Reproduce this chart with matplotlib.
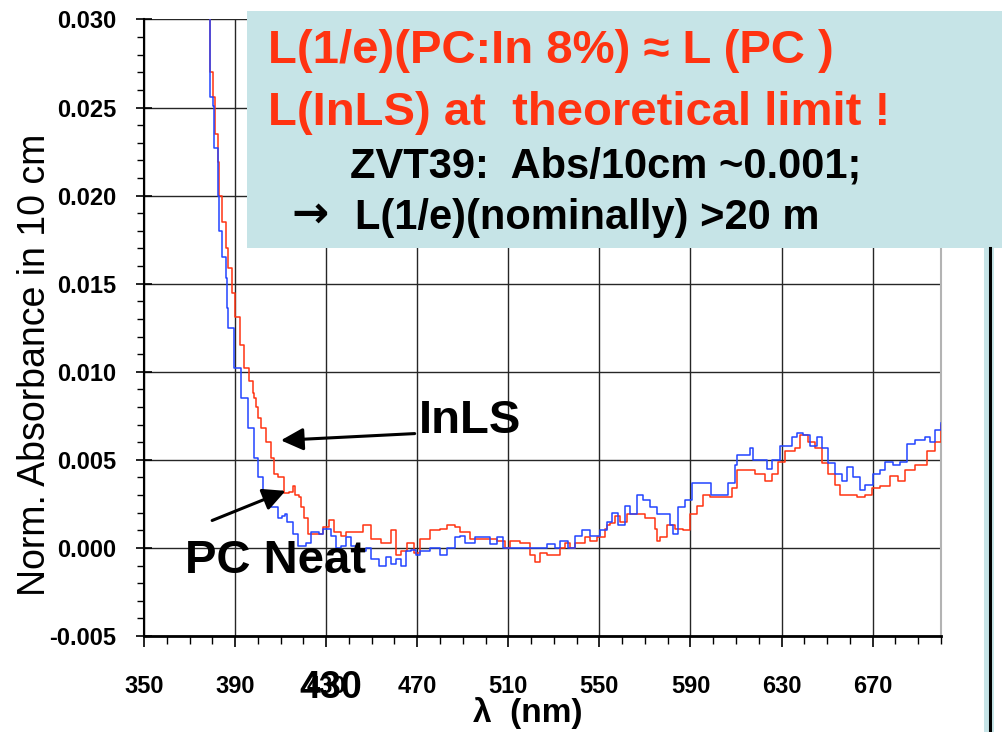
import matplotlib
matplotlib.use("Agg")
import matplotlib.pyplot as plt
from matplotlib.patches import Rectangle
from matplotlib.ticker import MultipleLocator

# InLS (red) and neat PC (blue) absorbance spectra, 10 cm path
wl_inls = [376.0, 378.3, 378.8, 380.1, 381.0, 381.4, 382.3, 383.1, 384.4, 385.8,
           387.1, 388.5, 390.1, 392.0, 394.1, 396.0, 398.0, 398.4, 399.3, 400.0,
           401.5, 403.5, 405.9, 407.2, 409.0, 411.5, 413.5, 415.5, 416.5, 418.0,
           419.0, 420.3, 422.0, 424.0, 426.4, 428.6, 431.2, 433.4, 436.5, 438.7,
           442.0, 445.2, 446.1, 449.6, 454.0, 458.3, 460.5, 463.0, 465.7, 468.4,
           471.4, 475.8, 480.2, 483.2, 486.7, 488.9, 491.1, 493.3, 497.7, 502.1,
           505.1, 508.6, 510.8, 515.1, 519.5, 521.7, 523.9, 526.9, 528.2, 532.6,
           534.8, 537.0, 539.2, 543.6, 545.7, 548.8, 552.3, 553.2, 554.5, 556.7,
           558.9, 562.0, 565.5, 569.9, 574.3, 575.2, 576.5, 579.6, 583.1, 586.6,
           589.7, 592.8, 595.4, 598.5, 604.2, 608.1, 610.3, 613.8, 618.2, 622.6,
           623.5, 625.7, 628.3, 631.4, 635.8, 638.0, 641.5, 644.6, 647.7, 650.3,
           653.4, 655.5, 659.9, 663.0, 666.5, 669.6, 673.1, 677.5, 681.0, 684.1,
           688.5, 693.8, 697.3, 700.0]
abs_inls = [0.0340, 0.0301, 0.0270, 0.0256, 0.0240, 0.0235, 0.0219, 0.0200, 0.0185, 0.0170,
            0.0159, 0.0145, 0.0131, 0.0115, 0.0102, 0.0095, 0.0088, 0.0085, 0.0080, 0.0074,
            0.0068, 0.0060, 0.0051, 0.0042, 0.0040, 0.0031, 0.0032, 0.0035, 0.0030, 0.0029,
            0.0023, 0.0017, 0.0008, 0.0008, 0.0008, 0.0012, 0.0016, 0.0009, 0.0007, 0.0009,
            0.0009, 0.0009, 0.0013, 0.0005, 0.0003, 0.0010, -0.0004, -0.0002, 0.0003, -0.0003,
            0.0005, 0.0010, 0.0011, 0.0013, 0.0012, 0.0009, 0.0009, 0.0005, 0.0005, 0.0005,
            0.0004, 0.0000, 0.0004, 0.0003, -0.0004, -0.0008, -0.0003, -0.0004, -0.0004, 0.0000,
            0.0003, 0.0000, 0.0003, 0.0006, 0.0004, 0.0006, 0.0011, 0.0013, 0.0014, 0.0018,
            0.0015, 0.0019, 0.0019, 0.0017, 0.0011, 0.0004, 0.0006, 0.0013, 0.0011, 0.0010,
            0.0019, 0.0024, 0.0030, 0.0029, 0.0029, 0.0034, 0.0044, 0.0044, 0.0042, 0.0038,
            0.0038, 0.0042, 0.0049, 0.0055, 0.0057, 0.0064, 0.0060, 0.0057, 0.0048, 0.0042,
            0.0036, 0.0030, 0.0030, 0.0029, 0.0030, 0.0034, 0.0035, 0.0041, 0.0038, 0.0044,
            0.0047, 0.0055, 0.0060, 0.0070]

wl_pc = [376.0, 377.9, 378.8, 380.1, 380.6, 382.3, 382.7, 383.1, 384.4, 386.2,
         386.6, 387.1, 389.7, 392.8, 395.8, 398.4, 400.2, 402.4, 405.9, 408.9,
         410.5, 412.0, 413.0, 415.5, 417.7, 419.0, 421.2, 423.3, 426.8, 428.6,
         432.1, 434.3, 436.5, 438.7, 441.0, 443.0, 447.5, 449.6, 453.1, 456.2,
         458.3, 460.5, 462.7, 464.9, 467.1, 469.3, 471.4, 475.8, 480.2, 483.2,
         486.7, 488.9, 491.1, 495.5, 499.9, 502.1, 505.1, 507.7, 526.9, 530.4,
         532.6, 536.1, 539.2, 542.2, 545.7, 548.8, 550.1, 553.2, 555.4, 558.0,
         561.1, 563.3, 566.4, 569.0, 572.1, 575.2, 577.8, 580.9, 582.2, 584.4,
         587.5, 590.6, 596.3, 599.0, 604.2, 606.4, 609.4, 610.3, 616.0, 617.3,
         620.4, 623.5, 625.7, 629.2, 634.5, 636.7, 639.3, 642.4, 645.5, 647.7,
         650.3, 653.4, 656.4, 658.6, 661.2, 664.3, 666.5, 670.0, 673.1, 675.3,
         678.8, 681.9, 685.0, 688.5, 692.9, 695.1, 697.3, 700.0]
abs_pc = [0.0340, 0.0301, 0.0256, 0.0251, 0.0227, 0.0210, 0.0200, 0.0180, 0.0165, 0.0153,
          0.0136, 0.0125, 0.0102, 0.0085, 0.0068, 0.0051, 0.0040, 0.0031, 0.0023, 0.0017,
          0.0018, 0.0019, 0.0015, 0.0008, 0.0001, 0.0001, 0.0003, 0.0009, 0.0008, 0.0011,
          0.0007, 0.0000, 0.0001, 0.0006, 0.0001, -0.0002, 0.0000, -0.0006, -0.0010, -0.0005,
          -0.0009, -0.0006, -0.0010, -0.0002, -0.0001, -0.0004, -0.0002, 0.0000, -0.0004, 0.0000,
          0.0006, 0.0007, 0.0003, 0.0006, 0.0006, 0.0002, 0.0006, 0.0000, 0.0002, 0.0000,
          0.0004, 0.0000, 0.0007, 0.0010, 0.0007, 0.0007, 0.0010, 0.0015, 0.0020, 0.0013,
          0.0024, 0.0019, 0.0030, 0.0027, 0.0023, 0.0019, 0.0019, 0.0013, 0.0008, 0.0023,
          0.0027, 0.0037, 0.0037, 0.0030, 0.0030, 0.0037, 0.0047, 0.0053, 0.0057, 0.0050,
          0.0050, 0.0045, 0.0050, 0.0058, 0.0063, 0.0065, 0.0064, 0.0058, 0.0063, 0.0057,
          0.0048, 0.0042, 0.0038, 0.0046, 0.0040, 0.0033, 0.0036, 0.0042, 0.0044, 0.0049,
          0.0047, 0.0049, 0.0059, 0.0061, 0.0063, 0.0060, 0.0067, 0.0071]

x_ticks = [350, 390, 430, 470, 510, 550, 590, 630, 670]
y_ticks = [-0.005, 0.000, 0.005, 0.010, 0.015, 0.020, 0.025, 0.030]

RED = "#ff3311"
BLUE = "#2244ff"
BOX = "#c6e4e7"
SANS = ["Liberation Sans", "DejaVu Sans"]

fig = plt.figure(figsize=(10.02, 7.32), dpi=100)
ax = fig.add_axes([0.1437, 0.1311, 0.7954, 0.8423])

ax.plot(wl_inls, abs_inls, color=RED, lw=1.1, drawstyle="steps-post", zorder=3)
ax.plot(wl_pc, abs_pc, color=BLUE, lw=1.1, drawstyle="steps-post", zorder=3)

ax.set_xlim(350, 700)
ax.set_ylim(-0.005, 0.030)

ax.set_xticks(x_ticks)
ax.set_xticklabels([str(v) for v in x_ticks], family=SANS, fontweight="bold", fontsize=17)
ax.set_yticks(y_ticks)
ax.set_yticklabels([f"{v:.3f}" for v in y_ticks], family=SANS, fontweight="bold", fontsize=17)
ax.xaxis.set_minor_locator(MultipleLocator(10))
ax.yaxis.set_minor_locator(MultipleLocator(0.001))
ax.tick_params(axis="x", which="major", direction="out", length=8, width=1.2, pad=20)
ax.tick_params(axis="x", which="minor", direction="out", length=6, width=1.0)
ax.tick_params(axis="y", which="major", direction="inout", length=12, width=1.2, pad=14)
ax.tick_params(axis="y", which="minor", direction="out", length=5, width=1.0)

ax.grid(True, which="major", color="0.15", lw=1.0)
ax.set_axisbelow(True)
ax.spines["top"].set_visible(False)
ax.spines["right"].set_color("0.7")
ax.spines["right"].set_linewidth(1.5)
ax.spines["left"].set_linewidth(1.5)
ax.spines["bottom"].set_linewidth(2.0)

ax.set_ylabel("Norm. Absorbance in 10 cm", family=SANS, fontsize=27, va="center")
ax.yaxis.set_label_coords(-0.137, 0.44)
ax.set_xlabel("λ  (nm)", family=SANS, fontweight="bold", fontsize=24, va="center")
ax.xaxis.set_label_coords(0.482, -0.125)

# duplicated 430 label sitting over the tick label
fig.text(331 / 1002, 1 - 688 / 732, "430", family=SANS, fontweight="bold",
         fontsize=27, ha="center", va="center")

# curve labels with arrows
ax.annotate("", xy=(408.9, 0.0061), xytext=(470.1, 0.0065),
            arrowprops=dict(arrowstyle="-|>", color="black", lw=2.2, mutation_scale=34))
ax.text(470.5, 0.0072, "InLS", family=SANS, fontweight="bold", fontsize=34,
        ha="left", va="center", zorder=5)
ax.annotate("", xy=(413.3, 0.0033), xytext=(378.8, 0.0015),
            arrowprops=dict(arrowstyle="-|>", color="black", lw=2.2, mutation_scale=34))
ax.text(367.9, -0.0014, "PC Neat", family=SANS, fontweight="bold", fontsize=34,
        ha="left", va="baseline", zorder=5)

# comment box in the upper part of the plot
fig.add_artist(Rectangle((247 / 1002, 1 - 248 / 732), 1.0, 237 / 732,
                         transform=fig.transFigure, facecolor=BOX, edgecolor="none", zorder=4))
box_lines = [
    ("L(1/e)(PC:In 8%) \u2248 L (PC )", RED, 34, 268, 63),
    ("L(InLS) at  theoretical limit !", RED, 34, 268, 125),
    ("ZVT39:  Abs/10cm ~0.001;", "black", 30, 350, 177),
    ("L(1/e)(nominally) >20 m", "black", 30, 355, 229),
]
for txt, col, size, px, base in box_lines:
    fig.text(px / 1002, 1 - base / 732, txt, color=col, family=SANS, fontweight="bold",
             fontsize=size, ha="left", va="baseline", zorder=5)
fig.text(291 / 1002, 1 - 214 / 732, "\u2192", family="DejaVu Sans", fontweight="bold",
         fontsize=32, ha="left", va="center", zorder=5)

# strip at the right edge of the slide
fig.add_artist(Rectangle((984 / 1002, 0), 10 / 1002, 1 - 248 / 732,
                         transform=fig.transFigure, facecolor=BOX, edgecolor="none", zorder=4))
fig.add_artist(plt.Line2D([989.5 / 1002, 989.5 / 1002], [0, 1 - 248 / 732],
                          transform=fig.transFigure, color="black", lw=2.2, zorder=5))

fig.savefig("out.png", dpi=100)
